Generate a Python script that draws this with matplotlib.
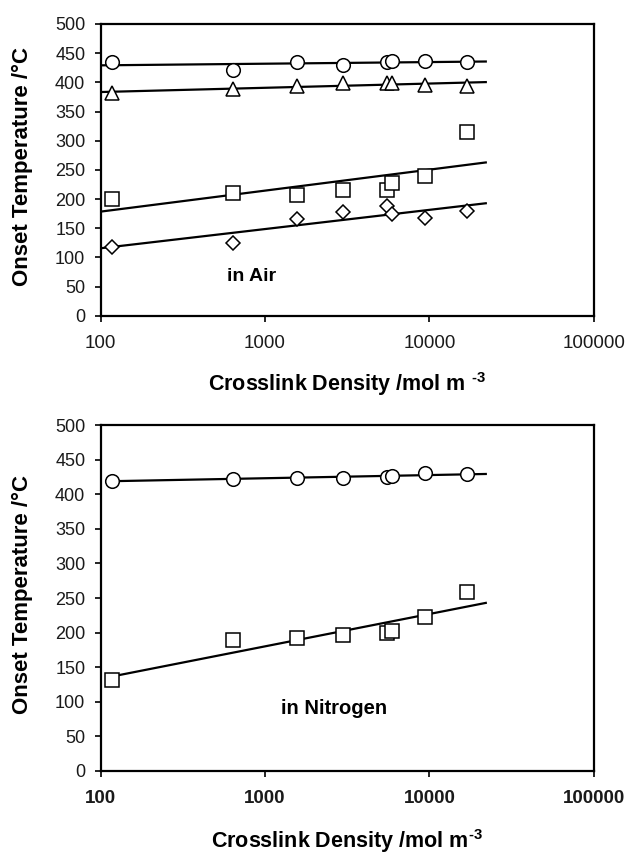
import numpy as np
import matplotlib.pyplot as plt

plt.rcParams['font.family'] = ['Liberation Sans', 'DejaVu Sans']
plt.rcParams['mathtext.fontset'] = 'custom'
plt.rcParams['mathtext.rm'] = 'Liberation Sans'
plt.rcParams['mathtext.bf'] = 'Liberation Sans:bold'

# crosslink density (mol m^-3), shared by all series
density = [117, 635, 1566, 2980, 5495, 5907, 9350, 16930]

# onset temperatures in air
air_circle = [434.5, 422, 435.5, 430, 434, 436, 437, 435.5]
air_triangle = [381, 389, 393, 399, 399, 399, 395, 394]
air_square = [201, 211, 207, 216, 216, 228, 239, 315]
air_diamond = [118, 124, 166, 178, 188.5, 175, 167, 180]

# onset temperatures in nitrogen
n2_circle = [419.5, 422, 424, 424, 425, 426, 430, 429]
n2_square = [131.5, 190, 192, 196.5, 199, 202, 223, 259]

fit_end = 22030
xticks = [100, 1000, 10000, 100000]
yticks = list(range(0, 501, 50))


def trend(ax, x, y, x0, x1):
    k, b = np.polyfit(np.log10(x), y, 1)
    xs = np.array([x0, x1])
    ax.plot(xs, k * np.log10(xs) + b, color='black', lw=1.6, zorder=2)


def style(ax, xweight, xlabel, xlabelpad):
    ax.set_xscale('log')
    ax.set_xlim(100, 100000)
    ax.set_ylim(0, 500)
    ax.set_xticks(xticks)
    ax.set_xticklabels([str(t) for t in xticks], fontweight=xweight, fontsize=13.5,
                       color='#1a1a1a')
    ax.minorticks_off()
    ax.set_yticks(yticks)
    ax.set_yticklabels([str(t) for t in yticks], fontsize=13, color='#1a1a1a')
    ax.tick_params(axis='x', length=4.5, width=1.2, pad=9)
    ax.tick_params(axis='y', length=4.5, width=1.2, pad=6.5)
    for s in ax.spines.values():
        s.set_linewidth(1.6)
    ax.set_ylabel('Onset Temperature /°C', fontsize=16, fontweight='bold', va='center')
    ax.yaxis.set_label_coords(-0.158, 0.51)
    ax.set_xlabel(xlabel, fontsize=15.5, fontweight='bold', labelpad=xlabelpad)


mk = dict(ls='none', mfc='white', mec='black', mew=1.1, zorder=3)

fig = plt.figure(figsize=(6.29, 8.56), dpi=100)

ax1 = fig.add_axes([0.160, 0.631, 0.784, 0.341])
ax1.plot(density, air_circle, marker='o', ms=9.8, **mk)
ax1.plot(density, air_triangle, marker='^', ms=10, **mk)
ax1.plot(density, air_square, marker='s', ms=9.8, **mk)
ax1.plot(density, air_diamond, marker='D', ms=7, **mk)
trend(ax1, density, air_circle, 100, fit_end)
trend(ax1, density, air_triangle, 100, fit_end)
trend(ax1, density, air_square, 100, fit_end)
trend(ax1, density, air_diamond, 100, fit_end)
ax1.text(584, 68, 'in Air', fontsize=14, fontweight='bold', va='center')
style(ax1, 'normal', 'Crosslink Density /mol m $^{\\mathbf{\u20103}}$', 13)

ax2 = fig.add_axes([0.160, 0.0993, 0.784, 0.4042])
ax2.plot(density, n2_circle, marker='o', ms=9.8, **mk)
ax2.plot(density, n2_square, marker='s', ms=9.8, **mk)
trend(ax2, density, n2_circle, density[0], fit_end)
trend(ax2, density, n2_square, density[0], fit_end)
ax2.text(1245, 90, 'in Nitrogen', fontsize=14.5, fontweight='bold', va='center')
style(ax2, 'bold', 'Crosslink Density /mol m$^{\\mathbf{\u20103}}$', 14.5)

fig.savefig('out.png', dpi=100)
